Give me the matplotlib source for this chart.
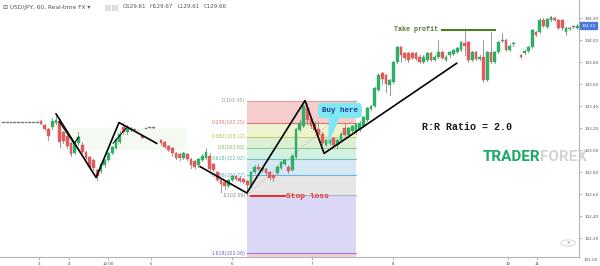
import numpy as np
import matplotlib
matplotlib.use("Agg")
import matplotlib.pyplot as plt
from matplotlib.patches import Rectangle, Polygon, Circle
from matplotlib import font_manager
import matplotlib.transforms as mtransforms

nan = float("nan")

# ---------------- data (hourly USD/JPY bars, index = bar number) ----------------
bar_index = list(range(-10, 144))

opens = [103.25]*10 + [
    103.26, 103.23, 103.19, 103.21, 103.25, 103.26, 103.16, 103.13, 103.06, 102.97,
    103.06, 103.05, 102.98, 102.94, 102.91, 102.82, 102.81, 102.86, 102.91, 102.97,
    103.02, 103.07, 103.21, 103.16, 103.20, 103.18, 103.17, 103.13, 103.19, 103.20,
    103.20, nan,    103.09, 103.07, 103.04, 103.02, 102.97, 102.96, 102.93, 102.96,
    102.92, 102.90, 102.86, 102.91, 102.93, 102.95, 102.87, 102.80, 102.73, 102.71,
    102.67, 102.73, 102.76, 102.75, 102.74, 102.72, 102.67, 102.80, 102.85, 102.82,
    102.83, 102.80, 102.77, 102.79, 102.84, 102.87, 102.85, 102.82, 102.94, 103.18,
    103.22, 103.38, 103.28, 103.25, 103.19, 103.15, 103.05, 103.06, 103.11, 103.05,
    103.09, 103.20, 103.14, 103.17, 103.16, 103.18, 103.22, 103.27, 103.37, 103.40,
    103.55, 103.70, 103.68, 103.59, 103.62, 103.80, 103.94, 103.88, 103.88, 103.88,
    103.88, 103.85, 103.80, 103.82, 103.88, 103.82, 103.85, 103.89, 103.82, 103.86,
    103.87, 103.89, 103.91, 103.97, 103.98, 103.82, 103.89, 103.83, 103.85, 103.64,
    103.89, 103.80, 103.89, 103.99, 104.00, 103.91, 103.96, nan,    103.86, 103.88,
    103.90, 103.94, 104.07, 104.07, 104.18, 104.12, 104.18, 104.20, 104.18, 104.18,
    104.07, 104.10, 104.12, 104.11]

closes = [103.25]*10 + [
    103.24, 103.19, 103.13, 103.26, 103.27, 103.07, 103.08, 103.04, 102.96, 103.06,
    103.12, 102.98, 102.93, 102.85, 102.84, 102.76, 102.87, 102.91, 102.97, 103.03,
    103.10, 103.15, 103.16, 103.21, 103.18, 103.18, 103.17, 103.11, 103.19, 103.20,
    103.20, nan,    103.06, 103.03, 103.00, 102.97, 102.93, 102.93, 102.97, 102.92,
    102.86, 102.85, 102.92, 102.95, 102.98, 102.83, 102.82, 102.73, 102.69, 102.67,
    102.73, 102.76, 102.74, 102.72, 102.71, 102.68, 102.80, 102.85, 102.83, 102.84,
    102.79, 102.75, 102.75, 102.85, 102.89, 102.91, 102.81, 102.95, 103.19, 103.25,
    103.40, 103.27, 103.22, 103.18, 103.14, 103.06, 103.09, 103.09, 103.05, 103.09,
    103.15, 103.14, 103.20, 103.22, 103.24, 103.25, 103.30, 103.38, 103.40, 103.56,
    103.68, 103.65, 103.60, 103.64, 103.80, 103.94, 103.86, 103.84, 103.82, 103.84,
    103.83, 103.80, 103.85, 103.88, 103.82, 103.85, 103.89, 103.84, 103.85, 103.89,
    103.91, 103.93, 103.98, 103.95, 103.82, 103.89, 103.83, 103.85, 103.64, 103.89,
    103.80, 103.89, 103.98, 104.00, 103.91, 103.95, 103.97, nan,    103.85, 103.90,
    103.94, 104.09, 104.05, 104.18, 104.13, 104.19, 104.21, 104.18, 104.11, 104.11,
    104.11, 104.11, 104.12, 104.13]

highs = [103.25]*10 + [
    103.27, 103.24, 103.20, 103.29, 103.32, 103.28, 103.17, 103.14, 103.07, 103.08,
    103.16, 103.07, 102.99, 102.95, 102.92, 102.83, 102.88, 102.92, 102.98, 103.04,
    103.11, 103.17, 103.25, 103.23, 103.21, 103.18, 103.17, 103.13, 103.19, 103.20,
    103.21, nan,    103.10, 103.08, 103.05, 103.03, 102.98, 102.97, 102.98, 102.97,
    102.93, 102.91, 102.93, 102.96, 103.02, 102.97, 102.88, 102.81, 102.74, 102.72,
    102.74, 102.77, 102.77, 102.76, 102.75, 102.73, 102.81, 102.86, 102.87, 102.85,
    102.84, 102.81, 102.78, 102.86, 102.90, 102.92, 102.86, 102.96, 103.20, 103.27,
    103.45, 103.43, 103.29, 103.26, 103.26, 103.16, 103.10, 103.10, 103.12, 103.10,
    103.16, 103.25, 103.21, 103.23, 103.25, 103.26, 103.31, 103.39, 103.41, 103.57,
    103.70, 103.71, 103.69, 103.65, 103.81, 103.95, 103.95, 103.89, 103.89, 103.89,
    103.89, 103.86, 103.86, 103.89, 103.89, 103.86, 104.00, 103.90, 103.86, 103.90,
    103.92, 103.94, 103.99, 104.08, 103.99, 103.90, 103.90, 103.86, 104.00, 103.90,
    104.07, 103.90, 103.99, 104.06, 104.01, 103.96, 103.98, nan,    103.87, 103.91,
    103.95, 104.10, 104.08, 104.20, 104.20, 104.20, 104.22, 104.21, 104.19, 104.19,
    104.12, 104.12, 104.13, 104.15]

lows = [103.25]*10 + [
    103.24, 103.18, 103.09, 103.19, 103.24, 103.03, 103.06, 103.02, 102.95, 102.96,
    103.05, 102.97, 102.92, 102.84, 102.82, 102.73, 102.79, 102.85, 102.90, 102.96,
    103.01, 103.06, 103.15, 103.15, 103.17, 103.18, 103.17, 103.11, 103.19, 103.20,
    103.20, nan,    103.05, 103.02, 102.99, 102.95, 102.92, 102.91, 102.92, 102.91,
    102.84, 102.84, 102.85, 102.90, 102.92, 102.82, 102.81, 102.72, 102.62, 102.65,
    102.66, 102.72, 102.73, 102.71, 102.70, 102.59, 102.66, 102.79, 102.82, 102.80,
    102.78, 102.73, 102.72, 102.78, 102.83, 102.86, 102.79, 102.81, 102.93, 103.17,
    103.21, 103.24, 103.20, 103.17, 103.13, 103.05, 103.04, 103.05, 103.04, 103.02,
    103.08, 103.13, 103.13, 103.16, 103.15, 103.17, 103.21, 103.26, 103.36, 103.39,
    103.54, 103.60, 103.53, 103.50, 103.61, 103.79, 103.80, 103.82, 103.80, 103.83,
    103.82, 103.79, 103.79, 103.81, 103.81, 103.81, 103.84, 103.83, 103.81, 103.85,
    103.86, 103.88, 103.90, 103.86, 103.80, 103.81, 103.82, 103.82, 103.62, 103.63,
    103.79, 103.79, 103.88, 103.98, 103.90, 103.90, 103.95, nan,    103.84, 103.87,
    103.89, 103.93, 104.04, 104.06, 104.12, 104.11, 104.17, 104.17, 104.10, 104.09,
    104.05, 104.09, 104.11, 104.10]

day_tick_pos = [-0.5, 7.5, 17.9, 29.3, 50.9, 72.3, 93.9, 124.5, 132.3]
day_tick_labels = ["3", "4", "12:00", "5", "6", "7", "8", "10", "11"]
price_ticks = [102.2, 102.4, 102.6, 102.8, 103.0, 103.2, 103.4, 103.6, 103.8, 104.0, 104.2]
last_price = 104.13

fib_ratios = ["0", "0.236", "0.382", "0.5", "0.618", "0.786", "1", "1.618"]
fib_prices = [103.45, 103.25, 103.12, 103.02, 102.92, 102.77, 102.59, 102.06]
fib_start, fib_end = 54.9, 84.0

# hand-drawn analysis lines (bar, price)
wave_left = [(4.0, 103.33), (14.7, 102.75), (20.8, 103.25), (30.9, 103.06)]
wave_left_small = [(4.8, 103.26), (8.8, 103.06), (10.1, 103.12)]
wave_left_small2 = [(19.2, 103.06), (22.7, 103.20)]
wave_main = [(42.4, 102.85), (54.9, 102.61), (70.4, 103.45), (75.5, 102.97), (110.9, 103.79)]
stop_loss = (56.0, 65.0, 102.58)
take_profit = (106.9, 121.1, 104.09)

# ---------------- figure ----------------
W, H = 600, 266
fig = plt.figure(figsize=(W/100, H/100), dpi=100)
ax = fig.add_axes([0, 9/H, 579/W, 257/H])
ax.set_xlim(-10.93, 143.47)
ax.set_ylim(102.028, 104.364)

# very faint highlighted zone on the left
ax.add_patch(Rectangle((5, 103.00), 34, 0.20, facecolor="#f4faf2", edgecolor="none", zorder=0))

# Fibonacci retracement zones
zone_colors = ["#f6cdcd", "#eef3cf", "#dcefd4", "#d4efe3", "#d5e8f4", "#e6e6e6", "#dbd7f6"]
line_colors = ["#e39a9a", "#e57373", "#c6cc68", "#8fcf85", "#6cc5b5", "#6fb3e6", "#b5b5b5", "#9a7fd6"]
label_colors = ["#9a9a9a", "#d77b7b", "#b3bb45", "#77bd5c", "#56b6a4", "#58a3c9", "#8a8a8a", "#6a68cf"]
for i in range(len(fib_prices) - 1):
    ax.fill_between([fib_start, fib_end], fib_prices[i+1], fib_prices[i],
                    color=zone_colors[i], lw=0, zorder=1)
ax.fill_between([fib_start, fib_end], ax.get_ylim()[0], fib_prices[-1],
                color="#f7ced6", lw=0, zorder=1)
for r, p, lc, tc in zip(fib_ratios, fib_prices, line_colors, label_colors):
    ax.plot([fib_start, fib_end], [p, p], color=lc, lw=0.8, zorder=2)
    ax.text(fib_start - 0.4, p, f"{r}({p:.2f})", ha="right", va="center",
            fontsize=3.4, color=tc, zorder=2)
ax.plot([fib_start, fib_end], [fib_prices[-2], fib_prices[0]], color="#b8b8b8",
        lw=0.6, ls=(0, (2, 2)), zorder=2)

# candles
up_c, dn_c, wick_c, doji_c = "#2fae66", "#e05c5c", "#8a8a8a", "#7a7a7a"
for x, o, c, h, l in zip(bar_index, opens, closes, highs, lows):
    if np.isnan(o):
        continue
    col = up_c if c > o else (dn_c if c < o else doji_c)
    if h > l:
        ax.plot([x, x], [l, h], color=wick_c, lw=0.6, zorder=3)
    lo, hi = min(o, c), max(o, c)
    ax.add_patch(Rectangle((x - 0.38, lo), 0.76, max(hi - lo, 0.007),
                           facecolor=col, edgecolor=col, lw=0.3, zorder=4))

# analysis lines
for pts, lw in [(wave_left, 1.2), (wave_main, 1.2), (wave_left_small, 0.7), (wave_left_small2, 0.7)]:
    xs, ys = zip(*pts)
    ax.plot(xs, ys, color="black", lw=lw, zorder=5, solid_capstyle="round")

mono = "Liberation Mono"
# stop loss
ax.plot([stop_loss[0], stop_loss[1]], [stop_loss[2], stop_loss[2]], color="#e02f2f", lw=1.4, zorder=6)
ax.text(stop_loss[1] + 0.4, stop_loss[2], "Stop loss", family=mono, fontweight="bold",
        fontsize=5.8, color="#e53935", va="center", ha="left", zorder=6)

# take profit
ax.plot([take_profit[0], take_profit[1]], [take_profit[2], take_profit[2]], color="#4e7d1f", lw=1.5, zorder=6)
ax.text(take_profit[0] - 1.0, take_profit[2] + 0.005, "Take profit", family=mono, fontweight="bold",
        fontsize=4.9, color="#56792b", va="center", ha="right", zorder=6)

# buy here callout
ax.add_patch(Polygon([(76.8, 103.31), (79.9, 103.31), (76.5, 103.05)], closed=True,
                     facecolor="#7fe8f3", edgecolor="none", zorder=6))
ax.text(79.7, 103.36, "Buy here", family=mono, fontweight="bold", fontsize=5.4,
        color="#1f3d96", ha="center", va="center", zorder=7,
        bbox=dict(boxstyle="round,pad=0.45,rounding_size=0.5", fc="#7fe8f3", ec="#7fe8f3"))

# R:R text
ax.text(101.6, 103.21, "R:R Ratio = 2.0", family=mono, fontweight="bold", fontsize=7.2,
        color="#1a1a1a", ha="left", va="center", zorder=6)

# axes styling
for s in ["top", "left"]:
    ax.spines[s].set_visible(False)
for s in ["right", "bottom"]:
    ax.spines[s].set_color("#b4b4b4")
    ax.spines[s].set_linewidth(0.8)
ax.yaxis.tick_right()
ax.set_yticks(price_ticks, [f"{v:.2f}" for v in price_ticks])
ax.tick_params(axis="y", labelsize=3.0, colors="#9a9a9a", labelcolor="#555555", length=2, width=0.5, pad=2)
ax.set_xticks(day_tick_pos, day_tick_labels)
ax.tick_params(axis="x", labelsize=2.9, colors="#9a9a9a", labelcolor="#444444", length=2, width=0.5, pad=1.5)

tr = mtransforms.blended_transform_factory(ax.transAxes, ax.transData)
ax.text(1.004, last_price, f"{last_price:.2f}", transform=tr, fontsize=3.0, color="white",
        ha="left", va="center", zorder=8, clip_on=False,
        bbox=dict(boxstyle="square,pad=0.35", fc="#4a78db", ec="#4a78db"))
fig.text(591/W, 1 - 260/H, "102.00", fontsize=3.0, color="#555555", ha="center", va="center")

# scroll button
fig.patches.append(Circle((568/W, 1 - 243/H), 0.012, transform=fig.transFigure,
                          facecolor="white", edgecolor="#d0d0d0", lw=0.6))
fig.text(568/W, 1 - 243/H, "»", fontsize=4, color="#666666", ha="center", va="center")

# header
fig.text(3/W, 1 - 7/H, "⊟ USD/JPY, 60, Real-time FX ▾", fontsize=4.2, color="#555555", va="center")
for xx in (105, 112):
    fig.patches.append(Rectangle((xx/W, 1 - 10/H), 5/W, 5/H, transform=fig.transFigure,
                                 facecolor="#e4e4e4", edgecolor="#c8c8c8", lw=0.4))
for xx, t in [(123, "O129.61"), (150, "H129.67"), (177, "L129.61"), (204, "C129.66")]:
    fig.text(xx/W, 1 - 7/H, t, fontsize=4.0, color="#555555", va="center")

# watermark
names = {f.name for f in font_manager.fontManager.ttflist}
wm_font = "Liberation Sans Narrow" if "Liberation Sans Narrow" in names else "Roboto"
wm_size = 13 if wm_font == "Liberation Sans Narrow" else 11
fig.text(483/W, 1 - 157/H, "TRADER", fontsize=wm_size, fontweight="bold", family=wm_font,
         color="#19a866", va="center", ha="left")
fig.text(540/W, 1 - 157/H, "FOREX", fontsize=wm_size, fontweight="bold", family=wm_font,
         color="#cfcfcf", va="center", ha="left", alpha=0.9)

fig.savefig("out.png", dpi=100)
